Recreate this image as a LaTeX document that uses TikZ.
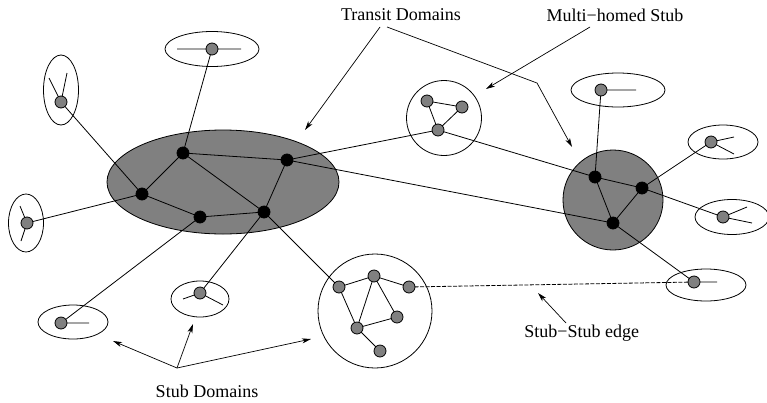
\documentclass[tikz,border=0pt]{standalone}
\usepackage{fontspec}
\setmainfont{Liberation Serif}
\usetikzlibrary{arrows.meta,shapes.geometric}
\begin{document}
\begin{tikzpicture}[x=1pt,y=-1pt,
  line width=0.8pt,
  gnode/.style={circle,draw,fill=gray!100!white,fill=black!50,minimum size=12pt,inner sep=0pt},
  bnode/.style={circle,draw,fill=black,minimum size=12pt,inner sep=0pt},
  stubell/.style={ellipse,draw,inner sep=0pt},
  dom/.style={draw,fill=black!50},
  ring/.style={circle,draw,inner sep=0pt},
  lbl/.style={font=\fontsize{18}{20}\selectfont,inner sep=0pt},
  arr/.style={-{Stealth[length=9pt,width=5pt,inset=2.5pt]},line width=0.7pt},
  spoke/.style={line width=0.8pt}]
\useasboundingbox (0,0) rectangle (767,402);

% transit domains
\node[ellipse,dom,minimum width=232pt,minimum height=104pt,inner sep=0pt] (T1) at (223,182) {};
\node[circle,dom,minimum size=100pt,inner sep=0pt] (T2) at (613,200) {};
% stub circles
\node[ring,minimum size=75pt] (MH) at (444,118) {};
\node[ring,minimum size=114pt] (BS) at (375,311) {};
% stub ellipses
\node[stubell,minimum width=35pt,minimum height=70pt] (eTL) at (61,90) {};
\node[stubell,minimum width=94pt,minimum height=35pt] (eT) at (212,49) {};
\node[stubell,minimum width=35pt,minimum height=58pt] (eL) at (26,223) {};
\node[stubell,minimum width=70pt,minimum height=34pt] (eBL) at (73,322) {};
\node[stubell,minimum width=58pt,minimum height=36pt] (eBM) at (200,299) {};
\node[stubell,minimum width=94pt,minimum height=34pt] (eRT) at (618,90) {};
\node[stubell,minimum width=70pt,minimum height=34pt] (eRU) at (723,142) {};
\node[stubell,minimum width=74pt,minimum height=35pt] (eRM) at (732,217) {};
\node[stubell,minimum width=80pt,minimum height=32pt] (eRB) at (706,285) {};

% node coordinates
\coordinate (A) at (183,153);
\coordinate (B) at (287,160);
\coordinate (C) at (142,194);
\coordinate (D) at (200,217);
\coordinate (E) at (264,212);
\coordinate (M1) at (427,101);
\coordinate (M2) at (462,107);
\coordinate (M3) at (438,130);
\coordinate (R1) at (595,177);
\coordinate (R2) at (642,188);
\coordinate (R3) at (613,223);
\coordinate (S1) at (339,287);
\coordinate (S2) at (374,276);
\coordinate (S3) at (409,287);
\coordinate (S4) at (397,317);
\coordinate (S5) at (357,328);
\coordinate (S6) at (380,351);
\coordinate (nTL) at (61,102);
\coordinate (nT) at (212,49);
\coordinate (nL) at (27,223);
\coordinate (nBL) at (61,323);
\coordinate (nBM) at (200,293);
\coordinate (nRT) at (601,90);
\coordinate (nRU) at (711,142);
\coordinate (nRM) at (723,217);
\coordinate (nRB) at (694,282);
% spoke ends
\coordinate (pTL1) at (49,78);
\coordinate (pTL2) at (67,73);
\coordinate (pT1) at (177,49);
\coordinate (pT2) at (241,49);
\coordinate (pL1) at (20,206);
\coordinate (pL2) at (21,241);
\coordinate (pBL) at (89,323);
\coordinate (pBM1) at (183,299);
\coordinate (pBM2) at (223,305);
\coordinate (pRT) at (636,90);
\coordinate (pRU1) at (734,137);
\coordinate (pRU2) at (734,154);
\coordinate (pRM1) at (747,207);
\coordinate (pRM2) at (752,223);
\coordinate (pRB) at (717,282);

% edges
\draw (A)--(B) (A)--(C) (A)--(E) (B)--(E) (C)--(D) (D)--(E);
\draw (B)--(M3) (B)--(R3) (M3)--(R1);
\draw (M1)--(M2) (M1)--(M3) (M2)--(M3);
\draw (R1)--(R2) (R1)--(R3) (R2)--(R3);
\draw (E)--(S1) (S1)--(S2) (S2)--(S3) (S1)--(S5) (S2)--(S5) (S2)--(S4) (S4)--(S5) (S5)--(S6);
\draw (C)--(nTL) (C)--(nL) (A)--(nT) (D)--(nBL) (E)--(nBM);
\draw (R1)--(nRT) (R2)--(nRU) (R2)--(nRM) (R3)--(nRB);
\draw[dash pattern=on 4pt off 1.5pt] (S3)--(nRB);
% spokes
\draw[spoke] (nTL)--(pTL1) (nTL)--(pTL2) (nT)--(pT1) (nT)--(pT2)
  (nL)--(pL1) (nL)--(pL2) (nBL)--(pBL) (nBM)--(pBM1) (nBM)--(pBM2)
  (nRT)--(pRT) (nRU)--(pRU1) (nRU)--(pRU2) (nRM)--(pRM1) (nRM)--(pRM2) (nRB)--(pRB);

% node dots
\foreach \n in {A,B,C,D,E,R1,R2,R3} \node[bnode] (d\n) at (\n) {};
\foreach \n in {M1,M2,M3,S1,S2,S3,S4,S5,S6,nTL,nT,nL,nBL,nBM,nRT,nRU,nRM,nRB} \node[gnode] (d\n) at (\n) {};

% labels
\node[lbl] (ltd) at (401,15) {Transit Domains};
\node[lbl] (lmh) at (615,15) {Multi−homed Stub};
\node[lbl,anchor=west] (lss) at (524,333) {Stub−Stub edge};
\node[lbl] (lsd) at (207,391) {Stub Domains};

\coordinate (tdA) at (380,27);
\coordinate (tdB) at (387,27);
\coordinate (tdK) at (537,83);
\coordinate (tdT1) at (305,130);
\coordinate (tdT2) at (572,147);
\draw[arr] (tdA)--(tdT1);
\draw[arr] (tdB)--(tdK)--(tdT2);
\coordinate (mhA) at (590,27);
\coordinate (mhT) at (486,89);
\draw[arr] (mhA)--(mhT);
\coordinate (ssA) at (566,323);
\coordinate (ssT) at (538,293);
\draw[arr] (ssA)--(ssT);
\coordinate (sdA) at (177,368);
\coordinate (sdT1) at (113,341);
\coordinate (sdT2) at (193,324);
\coordinate (sdT3) at (311,339);
\draw[arr] (sdA)--(sdT1);
\draw[arr] (sdA)--(sdT2);
\draw[arr] (sdA)--(sdT3);
\end{tikzpicture}
\end{document}
